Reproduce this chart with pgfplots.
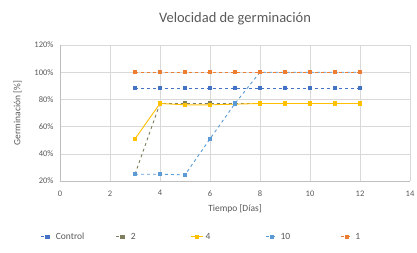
\documentclass[border=0pt]{standalone}
\usepackage{pgfplots}
\pgfplotsset{compat=1.18}
\usepackage{fontspec}
\setmainfont{Carlito}
\definecolor{sA}{HTML}{4472C4}
\definecolor{sB}{HTML}{7F7F5F}
\definecolor{sC}{HTML}{FFC000}
\definecolor{sD}{HTML}{5B9BD5}
\definecolor{sE}{HTML}{ED7D31}
\definecolor{txt}{HTML}{595959}
\newcommand{\legtxt}[1]{\makebox[55pt][l]{#1}}
\begin{document}
\begin{tikzpicture}
\path[use as bounding box] (0pt,0pt) rectangle (417pt,252pt);
\begin{axis}[
  at={(60pt,71pt)}, anchor=south west,
  scale only axis, width=350pt, height=136pt,
  xmin=0, xmax=14, ymin=0.2, ymax=1.2,
  xtick={0,2,...,14}, ytick={0.2,0.4,...,1.21},
  yticklabel={\pgfmathparse{\tick*100}\pgfmathprintnumber[fixed,precision=0]{\pgfmathresult}\%},
  /pgf/number format/assume math mode=true,
  grid=major, major grid style={draw=black!15, line width=0.5pt},
  axis line style={draw=black!25},
  axis x line*=bottom, axis y line*=left,
  tick style={draw=none},
  ticklabel style={font=\fontsize{8.5}{10}\selectfont, text=txt},
  xticklabel style={yshift=-6pt},
  yticklabel style={xshift=-3pt},
  title={Velocidad de germinación},
  title style={font=\fontsize{14.5}{16}\selectfont, text=txt, at={(0.5,1)}, yshift=10pt},
  xlabel={Tiempo [Días]}, ylabel={Germinación [\%]},
  label style={font=\fontsize{9.5}{11}\selectfont, text=txt},
  xlabel style={yshift=-1pt},
  ylabel style={yshift=6pt},
  legend style={at={(-0.055,-0.41)}, anchor=west, draw=none, legend columns=5,
    inner sep=0pt, font=\fontsize{9.5}{11}\selectfont, text=txt,
    /tikz/every even column/.append style={column sep=3pt}},
  legend image code/.code={\draw[#1, mark repeat=2, mark phase=2] plot coordinates {(0pt,0pt) (6pt,0pt) (12pt,0pt)};},
  every axis plot/.append style={line width=0.9pt, mark size=1.7pt},
]
\addplot[color=sA, dashed, mark=square*, mark options={solid}] coordinates {
 (3,0.883) (4,0.883) (5,0.883) (6,0.883) (7,0.883) (8,0.883) (9,0.883) (10,0.883) (11,0.883) (12,0.883)};
\addlegendentry{\legtxt{Control}}
\addplot[color=sB, dashed, mark=square*, mark options={solid}] coordinates {
 (3,0.25) (4,0.77) (5,0.77) (6,0.77) (7,0.77) (8,0.77) (9,0.77) (10,0.77) (11,0.77) (12,0.77)};
\addlegendentry{\legtxt{2}}
\addplot[color=sC, mark=square*] coordinates {
 (3,0.51) (4,0.77) (5,0.76) (6,0.76) (7,0.765) (8,0.77) (9,0.77) (10,0.77) (11,0.77) (12,0.77)};
\addlegendentry{\legtxt{4}}
\addplot[color=sD, dashed, mark=square*, mark options={solid}] coordinates {
 (3,0.25) (4,0.25) (5,0.245) (6,0.51) (7,0.77) (8,1.0) (9,1.0) (10,1.0) (11,1.0) (12,1.0)};
\addlegendentry{\legtxt{10}}
\addplot[color=sE, dashed, mark=square*, mark options={solid}] coordinates {
 (3,1.0) (4,1.0) (5,1.0) (6,1.0) (7,1.0) (8,1.0) (9,1.0) (10,1.0) (11,1.0) (12,1.0)};
\addlegendentry{\legtxt{1}}
\end{axis}
\end{tikzpicture}
\end{document}
